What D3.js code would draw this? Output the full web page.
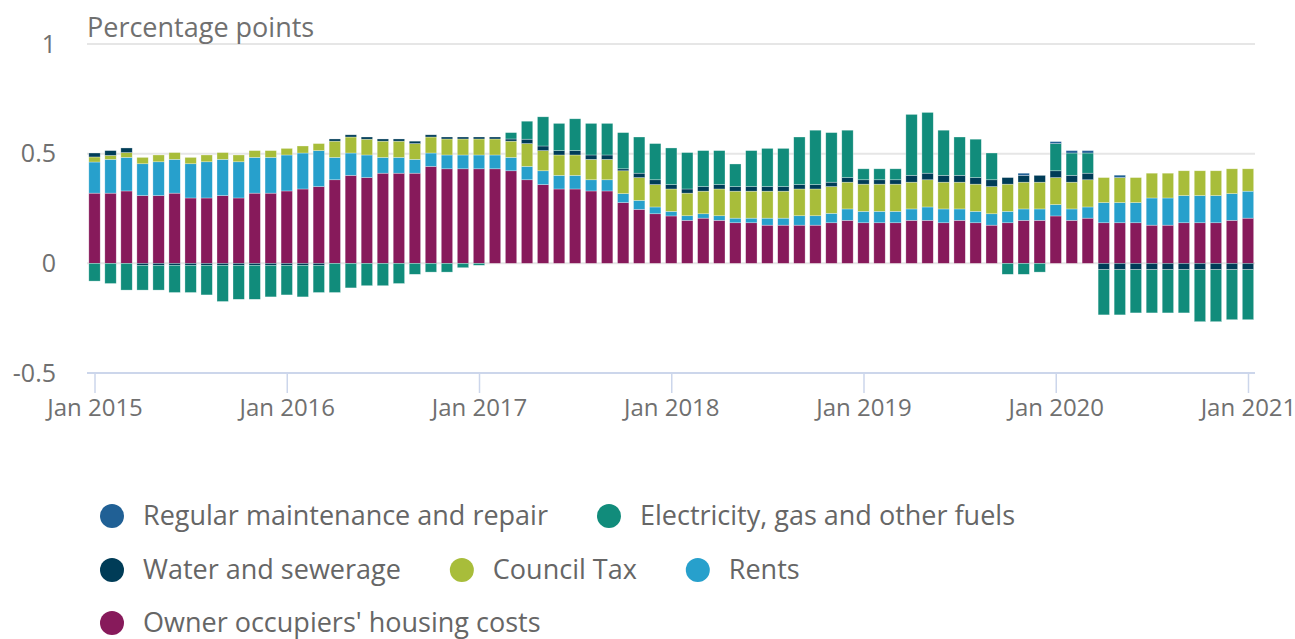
<!DOCTYPE html>
<html>
<head>
<meta charset="utf-8">
<script src="https://cdn.jsdelivr.net/npm/d3@7"></script>
<style>
  html, body { margin: 0; padding: 0; background: #ffffff; }
  svg { display: block; font-family: "Open Sans", "Noto Sans", sans-serif; }
</style>
</head>
<body>
<svg id="chart" width="1295" height="639"></svg>
<script>
// ---------------- data ----------------
const startYear = 2015;
const monthCount = 73; // Jan 2015 .. Jan 2021
const months = d3.range(monthCount).map(i => new Date(startYear, i, 1));

const seriesNames = [
  "Owner occupiers' housing costs",
  "Rents",
  "Council Tax",
  "Water and sewerage",
  "Electricity, gas and other fuels",
  "Regular maintenance and repair"
];

const ownerOccupiers = [
  0.320,0.320,0.330,0.309,0.309,0.320,0.298,0.298,0.309,0.298,0.320,0.320,
  0.330,0.339,0.350,0.381,0.401,0.391,0.411,0.411,0.411,0.442,0.431,0.431,
  0.431,0.431,0.422,0.381,0.359,0.339,0.339,0.330,0.330,0.277,0.246,0.226,
  0.216,0.196,0.206,0.196,0.185,0.185,0.174,0.174,0.174,0.174,0.185,0.196,
  0.185,0.185,0.185,0.196,0.196,0.185,0.196,0.185,0.174,0.185,0.196,0.196,
  0.216,0.196,0.206,0.185,0.185,0.185,0.174,0.174,0.185,0.185,0.185,0.196,
  0.206
];
const rents = [
  0.142,0.154,0.153,0.145,0.154,0.154,0.156,0.165,0.165,0.165,0.163,0.163,
  0.164,0.164,0.164,0.102,0.102,0.103,0.072,0.072,0.063,0.061,0.063,0.063,
  0.063,0.063,0.061,0.061,0.063,0.062,0.062,0.051,0.051,0.041,0.041,0.031,
  0.021,0.021,0.020,0.021,0.021,0.021,0.032,0.032,0.043,0.043,0.043,0.052,
  0.052,0.052,0.052,0.052,0.061,0.063,0.052,0.052,0.052,0.052,0.052,0.052,
  0.052,0.052,0.051,0.092,0.092,0.092,0.124,0.124,0.124,0.124,0.124,0.122,
  0.123
];
const councilTax = [
  0.023,0.018,0.022,0.029,0.031,0.031,0.029,0.031,0.031,0.031,0.031,0.031,
  0.030,0.032,0.032,0.074,0.073,0.072,0.074,0.074,0.072,0.073,0.073,0.073,
  0.073,0.073,0.074,0.104,0.092,0.093,0.093,0.093,0.093,0.104,0.104,0.102,
  0.102,0.103,0.103,0.122,0.123,0.123,0.123,0.123,0.122,0.122,0.122,0.122,
  0.124,0.124,0.124,0.122,0.124,0.122,0.122,0.124,0.124,0.124,0.122,0.122,
  0.123,0.122,0.124,0.114,0.114,0.114,0.113,0.113,0.113,0.113,0.113,0.113,
  0.102
];
const waterSewerage = [
  0.018,0.022,0.021,-0.009,-0.009,-0.009,-0.009,-0.009,-0.009,-0.009,-0.009,-0.009,
  -0.009,-0.009,-0.009,0.010,0.010,0.010,0.010,0.010,0.011,0.010,0.009,0.009,
  0.009,0.009,0.010,0.020,0.021,0.020,0.020,0.020,0.020,0.009,0.020,0.022,
  0.020,0.019,0.021,0.020,0.021,0.021,0.021,0.021,0.020,0.020,0.020,0.021,
  0.020,0.020,0.020,0.031,0.030,0.031,0.031,0.030,0.031,0.030,0.031,0.031,
  0.031,0.031,0.030,-0.029,-0.029,-0.029,-0.029,-0.029,-0.029,-0.029,-0.029,-0.029,
  -0.029
];
const electricityGas = [
  -0.081,-0.092,-0.122,-0.113,-0.113,-0.124,-0.124,-0.135,-0.165,-0.155,-0.155,-0.144,
  -0.135,-0.144,-0.124,-0.133,-0.112,-0.102,-0.102,-0.092,-0.050,-0.040,-0.040,-0.020,
  -0.009,0.000,0.029,0.082,0.133,0.124,0.145,0.144,0.144,0.165,0.165,0.165,
  0.167,0.166,0.164,0.155,0.103,0.164,0.174,0.174,0.217,0.248,0.226,0.216,
  0.050,0.050,0.050,0.278,0.277,0.206,0.175,0.175,0.122,-0.050,-0.050,-0.040,
  0.124,0.102,0.092,-0.206,-0.206,-0.197,-0.197,-0.197,-0.197,-0.237,-0.237,-0.228,
  -0.228
];
const maintenance = [
  0,0,0,0,0,0,0,0,0,0,0,0,
  0,0,0,0,0,0,0,0,0,0,0,0,
  0,0,0,0,0,0,0,0,0,0,0,0,
  0,0,0,0,0,0,0,0,0,0,0,0,
  0,0,0,0,0,0,0,0,0,0,0.010,0,
  0.009,0.011,0.011,0,0.011,0,0,0,0,0,0,0,
  0
];

const yTicks = [-0.5, 0, 0.5, 1];
const yTickLabels = ["-0.5", "0", "0.5", "1"];
const xTickYears = [2015, 2016, 2017, 2018, 2019, 2020, 2021];
const xTickLabels = ["Jan 2015", "Jan 2016", "Jan 2017", "Jan 2018", "Jan 2019", "Jan 2020", "Jan 2021"];
const yAxisTitle = "Percentage points";

const colors = {
  "Owner occupiers' housing costs": "#871A5B",
  "Rents": "#27A0CC",
  "Council Tax": "#A8BD3A",
  "Water and sewerage": "#003C57",
  "Electricity, gas and other fuels": "#118C7B",
  "Regular maintenance and repair": "#206095"
};

// legend order as in reference
const legendOrder = [
  "Regular maintenance and repair",
  "Electricity, gas and other fuels",
  "Water and sewerage",
  "Council Tax",
  "Rents",
  "Owner occupiers' housing costs"
];

// ---------------- build table ----------------
const seriesArrays = [ownerOccupiers, rents, councilTax, waterSewerage, electricityGas, maintenance];
const table = months.map((m, i) => {
  const row = { date: m, idx: i };
  seriesNames.forEach((n, k) => row[n] = seriesArrays[k][i]);
  return row;
});

const stack = d3.stack().keys(seriesNames).offset(d3.stackOffsetDiverging);
const stacked = stack(table);

// ---------------- layout ----------------
const svg = d3.select("#chart");
const plotLeft = 86.5, plotRight = 1256;
const x = d3.scaleBand()
  .domain(d3.range(monthCount))
  .range([plotLeft, plotRight])
  .paddingInner(0.29)
  .paddingOuter(0.145);
const y = d3.scaleLinear().domain([-0.5, 1]).range([373, 44]);

const textColor = "#707070";

// gridlines
svg.append("g").selectAll("line")
  .data(yTicks.filter(t => t !== -0.5))
  .join("line")
  .attr("x1", 87).attr("x2", 1255)
  .attr("y1", d => y(d)).attr("y2", d => y(d))
  .attr("stroke", "#e6e6e6").attr("stroke-width", 2);

// bars
svg.append("g").selectAll("g")
  .data(stacked)
  .join("g")
  .attr("fill", d => colors[d.key])
  .selectAll("rect")
  .data(d => d.filter(s => Math.abs(s[1] - s[0]) > 1e-9))
  .join("rect")
  .attr("x", d => x(d.data.idx))
  .attr("width", x.bandwidth())
  .attr("y", d => y(Math.max(d[0], d[1])))
  .attr("height", d => Math.abs(y(d[0]) - y(d[1])))
  .attr("stroke", "#ffffff")
  .attr("stroke-opacity", 0.5)
  .attr("stroke-width", 0.6);

// x axis line at -0.5
const xAxisG = svg.append("g").attr("transform", `translate(0,${y(-0.5)})`);
const xAxis = d3.axisBottom(d3.scaleLinear().domain([0, monthCount - 1]).range([x(0) + x.bandwidth() / 2, x(monthCount - 1) + x.bandwidth() / 2]))
  .tickValues(xTickYears.map(yr => (yr - startYear) * 12))
  .tickFormat((d, i) => xTickLabels[i])
  .tickSize(20)
  .tickPadding(9)
  .tickSizeOuter(0);
xAxisG.call(xAxis);
xAxisG.select(".domain").remove();
xAxisG.insert("line", ":first-child")
  .attr("x1", 87).attr("x2", 1255).attr("y1", 0).attr("y2", 0)
  .attr("stroke", "#ccd6eb").attr("stroke-width", 2);
xAxisG.selectAll(".tick line").attr("stroke", "#ccd6eb").attr("stroke-width", 1.5);
xAxisG.selectAll(".tick text")
  .attr("fill", textColor)
  .attr("font-size", 24)
  .attr("font-family", "'Open Sans', sans-serif")
  .attr("dy", "0.57em");

// y axis labels
const yAxisG = svg.append("g").attr("transform", `translate(56,0)`);
const yAxis = d3.axisLeft(y).tickValues(yTicks)
  .tickFormat((d, i) => yTickLabels[yTicks.indexOf(d)])
  .tickSize(0).tickPadding(0);
yAxisG.call(yAxis);
yAxisG.select(".domain").remove();
yAxisG.selectAll(".tick text")
  .attr("fill", textColor)
  .attr("font-size", 25)
  .attr("font-family", "'Open Sans', sans-serif");

// axis title
svg.append("text")
  .attr("x", 87).attr("y", 37)
  .attr("fill", textColor)
  .attr("font-size", 27)
  .text(yAxisTitle);

// ---------------- legend ----------------
const legend = svg.append("g");
const legendStartX = 100, maxLegendX = 1180;
const rowY = [516, 570, 623];
let lx = legendStartX, row = 0;
legendOrder.forEach(name => {
  const g = legend.append("g");
  const t = g.append("text")
    .attr("font-size", 27)
    .attr("fill", "#666666")
    .attr("dy", "0.35em")
    .text(name);
  const w = t.node().getComputedTextLength();
  const itemW = 43 + w;
  if (lx + itemW > maxLegendX && lx > legendStartX) { row++; lx = legendStartX; }
  g.append("circle").attr("cx", lx + 12).attr("cy", rowY[row]).attr("r", 12).attr("fill", colors[name]);
  t.attr("x", lx + 43).attr("y", rowY[row]);
  lx += 43 + w + 49;
});
</script>
</body>
</html>
